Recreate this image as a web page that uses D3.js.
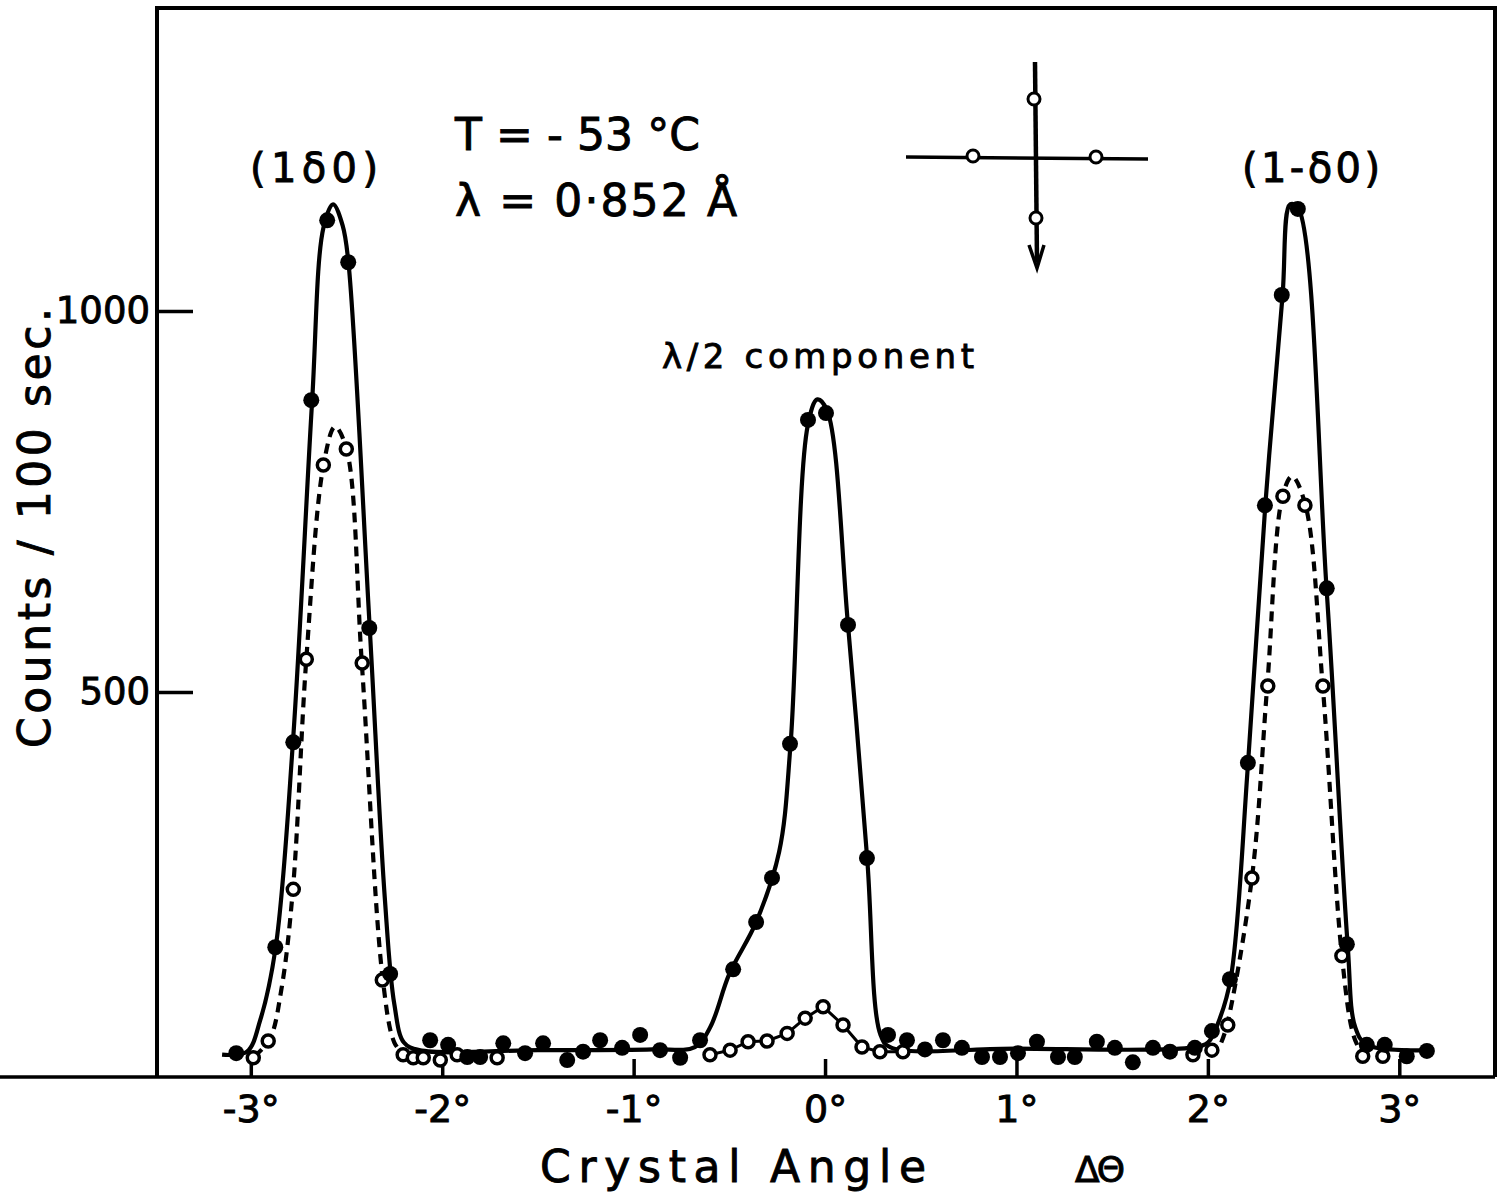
<!DOCTYPE html>
<html>
<head>
<meta charset="utf-8">
<script src="https://cdnjs.cloudflare.com/ajax/libs/d3/7.8.5/d3.min.js"></script>
<style>
  body { margin: 0; background: #fff; }
  svg { display: block; }
  text { font-family: "DejaVu Sans", sans-serif; fill: #000; stroke: #000; stroke-width: 0.9px; }
</style>
</head>
<body>
<div id="chart"></div>
<script>
// x in degrees (crystal angle), y in counts / 100 sec
const xTicks = [-3, -2, -1, 0, 1, 2, 3];
const yTicks = [500, 1000];

// filled circles (measured points, solid line)
const filledPoints = [
  [-3.076, 26], [-2.872, 165], [-2.778, 434], [-2.684, 883], [-2.601, 1119],
  [-2.491, 1064], [-2.381, 584], [-2.272, 130], [-2.063, 43], [-1.969, 37],
  [-1.869, 21], [-1.802, 21], [-1.681, 39], [-1.567, 26], [-1.473, 39],
  [-1.347, 17], [-1.264, 28], [-1.175, 43], [-1.060, 33], [-0.966, 50],
  [-0.862, 30], [-0.757, 20], [-0.653, 43], [-0.480, 136], [-0.360, 198],
  [-0.277, 256], [-0.183, 432], [-0.089, 857], [0.005, 866], [0.120, 588],
  [0.219, 282], [0.329, 50], [0.428, 43], [0.522, 31], [0.616, 43],
  [0.715, 33], [0.820, 21], [0.914, 21], [1.008, 26], [1.107, 41],
  [1.217, 21], [1.305, 21], [1.420, 41], [1.514, 33], [1.608, 14],
  [1.713, 33], [1.802, 28], [1.932, 33], [2.021, 55], [2.115, 123],
  [2.209, 407], [2.298, 745], [2.386, 1021], [2.470, 1134], [2.621, 636],
  [2.726, 169], [2.830, 37], [2.924, 37], [3.039, 22], [3.144, 29]
];

// open circles
const openPoints = [
  [-2.987, 20], [-2.909, 42], [-2.778, 241], [-2.710, 543], [-2.621, 798],
  [-2.501, 819], [-2.418, 538], [-2.313, 122], [-2.204, 24], [-2.151, 20],
  [-2.099, 20], [-2.010, 17], [-1.922, 24], [-1.713, 20],
  [-0.601, 24], [-0.496, 30], [-0.402, 41], [-0.303, 42], [-0.198, 52],
  [-0.104, 72], [-0.010, 87], [0.094, 63], [0.193, 34], [0.287, 28], [0.407, 28],
  [1.922, 24], [2.021, 30], [2.104, 63], [2.230, 256], [2.313, 508],
  [2.392, 757], [2.507, 745], [2.601, 508], [2.700, 154], [2.809, 22], [2.914, 22]
];

// hand drawn curve through the filled points
const solidCurve = [
  [-3.15, 24], [-3.02, 28], [-2.95, 70], [-2.87, 165], [-2.78, 434], [-2.68, 880],
  [-2.62, 1110], [-2.57, 1140], [-2.52, 1112], [-2.49, 1064], [-2.38, 590],
  [-2.30, 230], [-2.25, 90], [-2.20, 40], [-2.12, 30], [-1.5, 30], [-0.9, 31],
  [-0.68, 34], [-0.6, 60], [-0.5, 130], [-0.36, 198], [-0.24, 290], [-0.18, 432],
  [-0.09, 850], [-0.04, 884], [0.01, 870], [0.12, 588], [0.22, 282], [0.29, 50],
  [0.34, 34], [1.0, 32], [1.9, 33], [2.0, 40], [2.06, 70], [2.12, 125],
  [2.21, 407], [2.30, 745], [2.39, 1020], [2.43, 1140], [2.47, 1136],
  [2.62, 636], [2.73, 169], [2.77, 60], [2.83, 37], [3.15, 30]
];

// dashed curves through the open points
const dashedLeft = [
  [-2.98, 22], [-2.90, 45], [-2.84, 110], [-2.78, 241], [-2.71, 543],
  [-2.62, 798], [-2.56, 848], [-2.50, 819], [-2.42, 538], [-2.31, 122],
  [-2.25, 40], [-2.20, 24]
];
const dashedRight = [
  [2.07, 40], [2.10, 63], [2.23, 256], [2.31, 508], [2.39, 757], [2.44, 783],
  [2.51, 745], [2.60, 508], [2.70, 154], [2.76, 50], [2.81, 22]
];
// small peak of open circles at the centre
const openCentre = openPoints.filter(d => d[0] > -0.7 && d[0] < 0.5);

const width = 1506, height = 1200;
const svg = d3.select("#chart").append("svg")
    .attr("width", width)
    .attr("height", height);

const x = d3.scaleLinear().domain([-3.49, 3.5]).range([157, 1495]);
const y = d3.scaleLinear().domain([0, 1000]).range([1073, 311]);
const yTop = 8, yBottom = 1077;

// frame
svg.append("path")
    .attr("d", `M${x(-3.49)},${yBottom} V${yTop} H${x(3.5)} V${yBottom}`)
    .attr("fill", "none")
    .attr("stroke", "#000")
    .attr("stroke-width", 4);

// bottom axis
const xAxis = svg.append("g")
    .attr("transform", `translate(0,${yBottom})`)
    .call(d3.axisBottom(x).tickValues(xTicks).tickSize(-18).tickPadding(18)
        .tickFormat(d => (d < 0 ? "-" + Math.abs(d) : d) + "°"));
xAxis.select(".domain").remove();
xAxis.selectAll(".tick line").attr("stroke-width", 3.5);
xAxis.selectAll(".tick text")
    .attr("font-size", 38)
    .attr("font-family", "DejaVu Sans");
svg.append("line")
    .attr("x1", 0).attr("x2", x(3.5))
    .attr("y1", yBottom).attr("y2", yBottom)
    .attr("stroke", "#000").attr("stroke-width", 3.5);

// left axis
const yAxis = svg.append("g")
    .attr("transform", `translate(${x(-3.49)},0)`)
    .call(d3.axisLeft(y).tickValues(yTicks).tickSize(-36).tickPadding(7)
        .tickFormat(d => d));
yAxis.select(".domain").remove();
yAxis.selectAll(".tick line").attr("stroke-width", 3.5);
yAxis.selectAll(".tick text")
    .attr("font-size", 37)
    .attr("font-family", "DejaVu Sans");

// curves
const line = d3.line()
    .x(d => x(d[0]))
    .y(d => y(d[1]))
    .curve(d3.curveCatmullRom.alpha(0.5));

svg.append("path")
    .datum(solidCurve)
    .attr("d", line)
    .attr("fill", "none")
    .attr("stroke", "#000")
    .attr("stroke-width", 4.2);

[dashedLeft, dashedRight].forEach(c => {
    svg.append("path")
        .datum(c)
        .attr("d", line)
        .attr("fill", "none")
        .attr("stroke", "#000")
        .attr("stroke-width", 4.2)
        .attr("stroke-dasharray", "10,7");
});

svg.append("path")
    .datum(openCentre)
    .attr("d", d3.line().x(d => x(d[0])).y(d => y(d[1])))
    .attr("fill", "none")
    .attr("stroke", "#000")
    .attr("stroke-width", 3);

// points
svg.append("g").selectAll("circle")
    .data(openPoints)
    .join("circle")
    .attr("cx", d => x(d[0]))
    .attr("cy", d => y(d[1]))
    .attr("r", 6)
    .attr("fill", "#fff")
    .attr("stroke", "#000")
    .attr("stroke-width", 3.5);

svg.append("g").selectAll("circle")
    .data(filledPoints)
    .join("circle")
    .attr("cx", d => x(d[0]))
    .attr("cy", d => y(d[1]))
    .attr("r", 8)
    .attr("fill", "#000");

// labels
function label(txt, cx, cy, size, len, anchor) {
    const t = svg.append("text")
        .attr("x", cx).attr("y", cy)
        .attr("font-size", size)
        .attr("text-anchor", anchor || "start")
        .text(txt);
    if (len) t.attr("textLength", len).attr("lengthAdjust", "spacing");
    return t;
}

label("(1δ0)", 250, 182, 40, 128);
label("(1-δ0)", 1242, 182, 40, 138);
label("T = - 53 °C", 455, 150, 44, 245);
label("λ = 0·852 Å", 455, 216, 44, 282);
label("λ/2 component", 662, 368, 34, 312);

label("Crystal  Angle", 540, 1182, 44, 386);
label("ΔΘ", 1075, 1182, 36, 50);

svg.append("text")
    .attr("transform", "translate(50,528) rotate(-90)")
    .attr("text-anchor", "middle")
    .attr("font-size", 44)
    .attr("textLength", 440)
    .attr("lengthAdjust", "spacing")
    .text("Counts / 100 sec.");

// rotation diagram (top right)
const cross = svg.append("g");
cross.append("line")
    .attr("x1", 1035).attr("y1", 62).attr("x2", 1037).attr("y2", 262)
    .attr("stroke", "#000").attr("stroke-width", 4.5);
cross.append("line")
    .attr("x1", 906).attr("y1", 157).attr("x2", 1148).attr("y2", 159)
    .attr("stroke", "#000").attr("stroke-width", 3.5);
cross.append("path")
    .attr("d", "M1029,245 L1037,268 L1044,245")
    .attr("fill", "none").attr("stroke", "#000").attr("stroke-width", 3.5);
cross.selectAll("circle")
    .data([[1034, 99], [973, 156], [1096, 157], [1036, 218]])
    .join("circle")
    .attr("cx", d => d[0]).attr("cy", d => d[1])
    .attr("r", 6)
    .attr("fill", "#fff").attr("stroke", "#000").attr("stroke-width", 3);
</script>
</body>
</html>
